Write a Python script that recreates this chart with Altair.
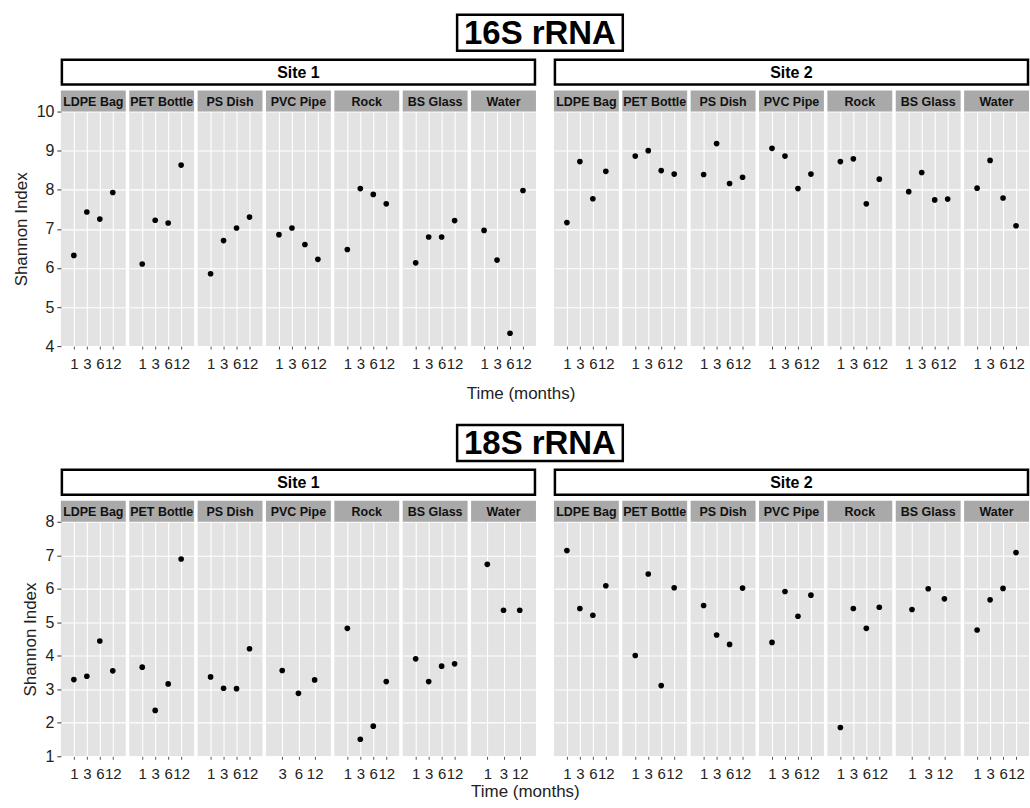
import altair as alt
import pandas as pd

FONT = "Liberation Sans"

materials = ["LDPE Bag", "PET Bottle", "PS Dish", "PVC Pipe", "Rock", "BS Glass", "Water"]
genes = ["16S rRNA", "18S rRNA"]
sites = ["Site 1", "Site 2"]

t4 = [1, 3, 6, 12]

# 16S rRNA
times_16S_site1 = [t4, t4, t4, t4, t4, t4, t4]
shannon_16S_site1 = [
    [6.32, 7.43, 7.25, 7.93],
    [6.10, 7.22, 7.15, 8.63],
    [5.85, 6.70, 7.02, 7.30],
    [6.85, 7.02, 6.60, 6.22],
    [6.47, 8.03, 7.88, 7.64],
    [6.13, 6.79, 6.79, 7.21],
    [6.96, 6.20, 4.33, 7.98],
]
times_16S_site2 = [t4, t4, t4, t4, t4, t4, t4]
shannon_16S_site2 = [
    [7.16, 8.72, 7.77, 8.47],
    [8.86, 9.00, 8.49, 8.40],
    [8.39, 9.18, 8.16, 8.32],
    [9.06, 8.86, 8.03, 8.40],
    [8.72, 8.79, 7.64, 8.27],
    [7.95, 8.44, 7.74, 7.76],
    [8.04, 8.75, 7.79, 7.08],
]

# 18S rRNA
times_18S_site1 = [t4, t4, t4, [3, 6, 12], t4, t4, [1, 3, 12]]
shannon_18S_site1 = [
    [3.29, 3.39, 4.44, 3.55],
    [3.66, 2.37, 3.16, 6.89],
    [3.37, 3.03, 3.02, 4.21],
    [3.56, 2.88, 3.28],
    [4.82, 1.51, 1.90, 3.23],
    [3.91, 3.23, 3.69, 3.76],
    [6.73, 5.36, 5.36],
]
times_18S_site2 = [t4, t4, t4, t4, t4, [1, 3, 12], t4]
shannon_18S_site2 = [
    [7.14, 5.41, 5.21, 6.09],
    [4.01, 6.44, 3.11, 6.03],
    [5.50, 4.62, 4.34, 6.02],
    [4.40, 5.92, 5.18, 5.81],
    [1.86, 5.41, 4.82, 5.45],
    [5.38, 6.00, 5.70],
    [4.77, 5.67, 6.01, 7.08],
]

data = {
    ("16S rRNA", "Site 1"): (times_16S_site1, shannon_16S_site1),
    ("16S rRNA", "Site 2"): (times_16S_site2, shannon_16S_site2),
    ("18S rRNA", "Site 1"): (times_18S_site1, shannon_18S_site1),
    ("18S rRNA", "Site 2"): (times_18S_site2, shannon_18S_site2),
}
y_domains = {"16S rRNA": [4, 10], "18S rRNA": [1, 8]}

PANEL_W = 65
PANEL_H = 235
STRIP_H = 21
PANEL_GAP = 3.5
SITE_W = 7 * PANEL_W + 6 * PANEL_GAP
SITE_GAP = 16
BG = "#E3E3E3"
STRIP = "#A9A9A9"
TXT = "#222222"


def panel(gene, mat, times, vals, first):
    lo, hi = y_domains[gene]
    df = pd.DataFrame({"time": times, "shannon": vals})
    sdf = pd.DataFrame({"label": [mat]})
    if first:
        yaxis = alt.Axis(values=list(range(lo, hi + 1)), grid=True, gridColor="white", gridWidth=1.1,
                         domain=False, tickColor="#333333", tickSize=4, labelFontSize=16,
                         labelColor=TXT, labelFont=FONT, labelPadding=3, title="Shannon Index",
                         titleFontSize=17, titleFont=FONT, titleFontWeight="normal",
                         titleColor=TXT, titlePadding=6)
    else:
        yaxis = alt.Axis(values=list(range(lo, hi + 1)), grid=True, gridColor="white", gridWidth=1.1,
                         labels=False, ticks=False, domain=False, title=None)
    xaxis = alt.Axis(title=None, grid=True, gridColor="white", gridWidth=1.1, domain=False,
                     tickSize=3, tickColor="#555555", labelAngle=0, labelFontSize=15,
                     labelFont=FONT, labelColor=TXT, labelPadding=7, labelOverlap=False,
                     labelFlush=False)
    pts = alt.Chart(df).mark_point(filled=True, color="black", size=32, opacity=1).encode(
        x=alt.X("time:O", scale=alt.Scale(type="point", padding=1, domain=times), axis=xaxis),
        y=alt.Y("shannon:Q", scale=alt.Scale(domain=[lo, hi], nice=False, zero=False), axis=yaxis),
    )
    strip = alt.Chart(sdf).mark_rect(fill=STRIP).encode(
        x=alt.value(0), x2=alt.value(PANEL_W), y=alt.value(-STRIP_H), y2=alt.value(0)
    )
    stext = alt.Chart(sdf).mark_text(font=FONT, fontWeight="bold", fontSize=12.5, color="#111111",
                                     baseline="middle", align="center").encode(
        x=alt.value(PANEL_W / 2), y=alt.value(-STRIP_H / 2 + 0.5), text="label:N"
    )
    return alt.layer(pts, strip, stext).properties(
        width=PANEL_W, height=PANEL_H, view=alt.ViewBackground(fill=BG, strokeWidth=0)
    )


def site_header(site):
    df = pd.DataFrame({"label": [site]})
    box = alt.Chart(df).mark_rect(fill="white", stroke="black", strokeWidth=2.5).encode(
        x=alt.value(1), x2=alt.value(SITE_W - 1), y=alt.value(1), y2=alt.value(26)
    )
    txt = alt.Chart(df).mark_text(font=FONT, fontWeight="bold", fontSize=16, color="black",
                                  baseline="middle", align="center").encode(
        x=alt.value(SITE_W / 2), y=alt.value(14), text="label:N"
    )
    return alt.layer(box, txt).properties(
        width=SITE_W, height=27, view=alt.ViewBackground(stroke="transparent")
    )


def gene_title(gene):
    df = pd.DataFrame({"label": [gene]})
    total = 2 * SITE_W + SITE_GAP
    cx = total / 2 - 4
    box = alt.Chart(df).mark_rect(fill="white", stroke="black", strokeWidth=2.5).encode(
        x=alt.value(cx - 83), x2=alt.value(cx + 83), y=alt.value(1), y2=alt.value(37)
    )
    txt = alt.Chart(df).mark_text(font=FONT, fontWeight="bold", fontSize=33, color="black",
                                  baseline="middle", align="center").encode(
        x=alt.value(cx), y=alt.value(20), text="label:N"
    )
    return alt.layer(box, txt).properties(
        width=total, height=38, view=alt.ViewBackground(stroke="transparent")
    )


def section(gene, title_offset):
    blocks = []
    for si, site in enumerate(sites):
        times_l, vals_l = data[(gene, site)]
        panels = [panel(gene, m, times_l[i], vals_l[i], first=(si == 0 and i == 0))
                  for i, m in enumerate(materials)]
        blocks.append(alt.vconcat(site_header(site), alt.hconcat(*panels, spacing=PANEL_GAP), spacing=4))
    row = alt.hconcat(*blocks, spacing=SITE_GAP,
                      title=alt.TitleParams("Time (months)", orient="bottom", anchor="middle",
                                            fontSize=17, fontWeight="normal", font=FONT,
                                            color=TXT, offset=title_offset))
    return alt.vconcat(gene_title(gene), row, spacing=5)


chart = alt.vconcat(section(genes[0], 15), section(genes[1], 3), spacing=21).properties(
    padding={"left": 12, "top": 12, "right": 0, "bottom": 0}
).configure_view(strokeWidth=0, stroke="transparent").configure(font=FONT)

chart.save("out.html", embed_options={"renderer": "svg", "actions": False})
